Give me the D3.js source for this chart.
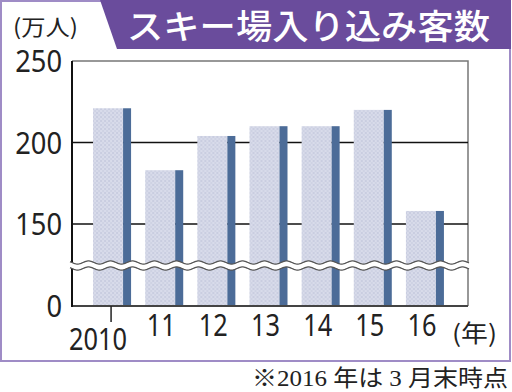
<!DOCTYPE html>
<html>
<head>
<meta charset="utf-8">
<script src="https://cdn.jsdelivr.net/npm/d3@7"></script>
<style>
  body { margin: 0; background: #fff; }
  svg { display: block; }
</style>
</head>
<body>
<svg id="chart" width="512" height="392"></svg>
<script>
var years     = ["2010","11","12","13","14","15","16"];
var visitors  = [221, 183, 204, 210, 210, 220, 158];   // 万人
var yTicks    = [0, 150, 200, 250];

var purple = "#6a4c9c";
var frameColor = "#9f8cc6";
var barLight = "#d8dbea";
var barDark = "#4c6c98";

var svg = d3.select("#chart");

// dotted texture for the front face of the bars
var defs = svg.append("defs");
var pat = defs.append("pattern")
	.attr("id", "dots")
	.attr("width", 4).attr("height", 4)
	.attr("patternUnits", "userSpaceOnUse");
pat.append("rect").attr("width", 4).attr("height", 4).attr("fill", barLight);
pat.append("circle").attr("cx", 1).attr("cy", 1).attr("r", 0.8).attr("fill", "#b7bcd4");
pat.append("circle").attr("cx", 3).attr("cy", 3).attr("r", 0.8).attr("fill", "#c3c7dc");

// outer frame + title banner
svg.append("rect")
	.attr("x", 1).attr("y", 1).attr("width", 509).attr("height", 360)
	.attr("fill", "none").attr("stroke", frameColor).attr("stroke-width", 2);

svg.append("path")
	.attr("d", "M100,0 L511,0 L511,49 L117,49 Z")
	.attr("fill", purple);

svg.append("text")
	.attr("x", 127).attr("y", 39)
	.attr("textLength", 363).attr("lengthAdjust", "spacingAndGlyphs")
	.style("font-family", "'Noto Sans CJK JP'")
	.style("font-size", "34px").style("font-weight", 500)
	.attr("fill", "#fff")
	.text("スキー場入り込み客数");

svg.append("text")
	.attr("x", 13).attr("y", 35)
	.attr("textLength", 65).attr("lengthAdjust", "spacingAndGlyphs")
	.style("font-family", "'Noto Sans CJK JP'")
	.style("font-size", "22px")
	.attr("fill", "#222")
	.text("(万人)");

// scales
var plotL = 72, plotR = 468, plotT = 61, plotB = 306;

var x = d3.scaleBand()
	.domain(years)
	.range([86, 451]);

// broken axis: 0-150 squeezed under the wave
var y = d3.scaleLinear()
	.domain([0, 150, 250])
	.range([plotB, 224, plotT]);

// plot frame (top + right grey)
svg.append("path")
	.attr("d", "M" + plotL + "," + plotT + "H" + plotR + "V" + plotB)
	.attr("fill", "none").attr("stroke", "#777").attr("stroke-width", 1.5);

// grid lines
svg.selectAll(".grid")
	.data([150, 200])
	.enter().append("line")
	.attr("class", "grid")
	.attr("x1", plotL).attr("x2", plotR)
	.attr("y1", function(d){ return y(d); })
	.attr("y2", function(d){ return y(d); })
	.attr("stroke", "#111").attr("stroke-width", 1.5);

// bars: light front face + dark side strip
var g = svg.selectAll(".bar")
	.data(years)
	.enter().append("g")
	.attr("class", "bar")
	.attr("transform", function(d){ return "translate(" + (x(d) + x.bandwidth()/2) + ",0)"; });

g.append("rect")
	.attr("x", -19).attr("width", 30)
	.attr("y", function(d, i){ return y(visitors[i]); })
	.attr("height", function(d, i){ return plotB - y(visitors[i]); })
	.attr("fill", "url(#dots)");

g.append("rect")
	.attr("x", 11).attr("width", 8)
	.attr("y", function(d, i){ return y(visitors[i]); })
	.attr("height", function(d, i){ return plotB - y(visitors[i]); })
	.attr("fill", barDark);

// axes
svg.append("line")
	.attr("x1", plotL).attr("x2", plotR)
	.attr("y1", plotB).attr("y2", plotB)
	.attr("stroke", "#444").attr("stroke-width", 2);

svg.append("line")
	.attr("x1", plotL).attr("x2", plotL)
	.attr("y1", plotT).attr("y2", plotB + 1)
	.attr("stroke", "#111").attr("stroke-width", 2);

// y tick labels
svg.selectAll(".ylab")
	.data(yTicks)
	.enter().append("text")
	.attr("class", "ylab")
	.attr("x", 62)
	.attr("y", function(d){ return y(d) + 11; })
	.attr("text-anchor", "end")
	.attr("textLength", function(d){ return String(d).length * 15.6; })
	.attr("lengthAdjust", "spacingAndGlyphs")
	.style("font-family", "'Noto Sans'")
	.style("font-size", "31px")
	.attr("fill", "#222")
	.text(function(d){ return d; });

// wavy break
var wave = [];
for (var px = plotL - 2; px <= plotR + 1; px += 1) wave.push(px);
var amp = 1.6, period = 22;
function waveY(px, base) { return base + amp * Math.sin((px - plotL) / period * 2 * Math.PI); }

var upper = d3.line().x(function(p){ return p; }).y(function(p){ return waveY(p, 262.5); });
var lower = d3.line().x(function(p){ return p; }).y(function(p){ return waveY(p, 268.5); });

svg.append("path")
	.attr("d", upper(wave) + "L" + wave.slice().reverse().map(function(p){ return p + "," + waveY(p, 268.5); }).join("L") + "Z")
	.attr("fill", "#fff");
svg.append("path").attr("d", upper(wave)).attr("fill", "none").attr("stroke", "#555").attr("stroke-width", 1.3);
svg.append("path").attr("d", lower(wave)).attr("fill", "none").attr("stroke", "#555").attr("stroke-width", 1.3);

// x tick (only under 2010)
svg.append("line")
	.attr("x1", x(years[0]) + x.bandwidth()/2 - 1).attr("x2", x(years[0]) + x.bandwidth()/2 - 1)
	.attr("y1", plotB).attr("y2", plotB + 16)
	.attr("stroke", "#222").attr("stroke-width", 1.5);

// x labels
svg.selectAll(".xlab")
	.data(years)
	.enter().append("text")
	.attr("class", "xlab")
	.attr("x", function(d, i){ return x(d) + x.bandwidth()/2 - (i == 0 ? 14 : 3); })
	.attr("y", function(d, i){ return i == 0 ? 350 : 336; })
	.attr("text-anchor", "middle")
	.attr("textLength", function(d){ return d.length * 14.5; })
	.attr("lengthAdjust", "spacingAndGlyphs")
	.style("font-family", "'Noto Sans'")
	.style("font-size", "31px")
	.attr("fill", "#222")
	.text(function(d){ return d; });

svg.append("text")
	.attr("x", 452).attr("y", 342)
	.attr("textLength", 45).attr("lengthAdjust", "spacingAndGlyphs")
	.style("font-family", "'Noto Sans CJK JP'")
	.style("font-size", "24px")
	.attr("fill", "#222")
	.text("(年)");

// footnote
svg.append("text")
	.attr("x", 508).attr("y", 386)
	.attr("text-anchor", "end")
	.attr("textLength", 256).attr("lengthAdjust", "spacingAndGlyphs")
	.style("font-family", "'Liberation Serif', 'Noto Sans CJK JP'")
	.style("font-size", "23px")
	.attr("fill", "#222")
	.text("※2016 年は 3 月末時点");
</script>
</body>
</html>
